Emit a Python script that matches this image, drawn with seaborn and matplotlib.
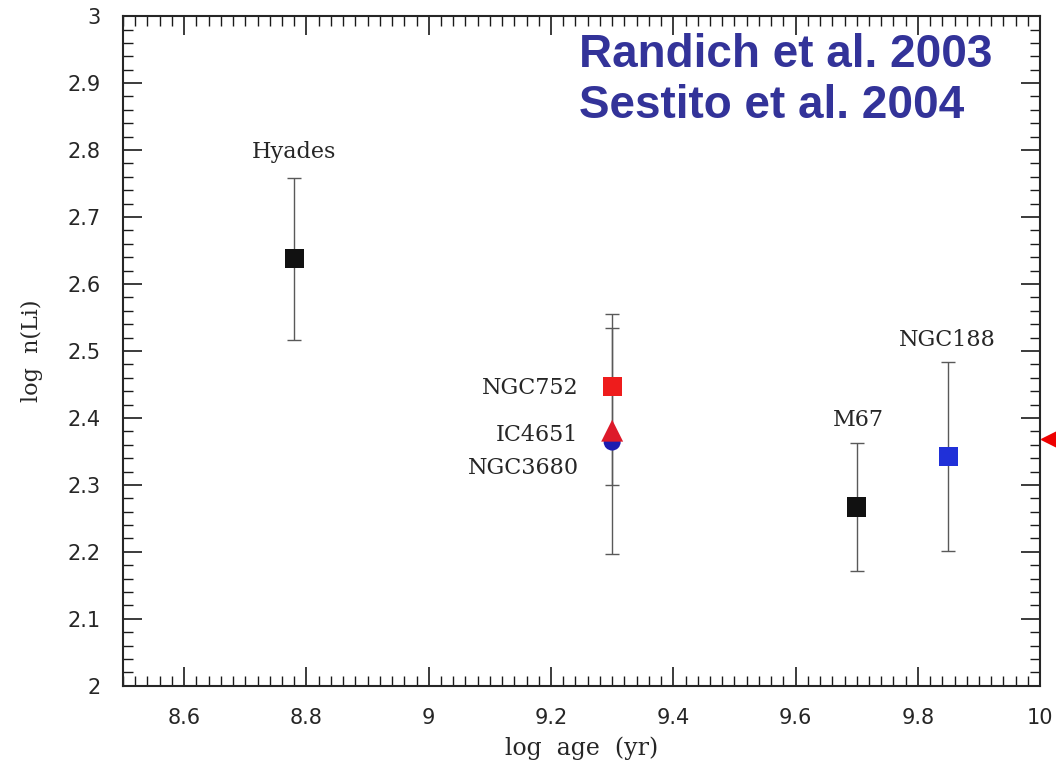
import numpy as np
import pandas as pd
import seaborn as sns
import matplotlib.pyplot as plt
from matplotlib.ticker import MultipleLocator

# values
clusters = ["Hyades", "NGC752", "NGC3680", "IC4651", "M67", "NGC188"]
log_age = [8.78, 9.30, 9.30, 9.30, 9.70, 9.85]
log_li = [2.638, 2.447, 2.364, 2.381, 2.267, 2.343]
err_lo = [0.122, 0.147, 0.167, 0.0, 0.095, 0.141]
err_hi = [0.120, 0.108, 0.170, 0.0, 0.095, 0.140]
colors = ["#111111", "#ee1c1c", "#1c1cb0", "#dd1a2a", "#111111", "#2030d8"]
markers = ["s", "s", "o", "^", "s", "s"]
edge_marker_li = 2.369

df = pd.DataFrame({"cluster": clusters, "age": log_age, "li": log_li,
                   "lo": err_lo, "hi": err_hi})

sns.set_style("ticks")
plt.rcParams["font.family"] = ["DejaVu Sans"]

fig = plt.figure(figsize=(10.56, 7.68), dpi=100)
ax = fig.add_axes([0.1165, 0.107, 0.8685, 0.872])

# error bars first, markers on top
for _, r in df.iterrows():
    if r.lo > 0 or r.hi > 0:
        ax.errorbar(r.age, r.li, yerr=[[r.lo], [r.hi]], fmt="none",
                    ecolor="0.35", elinewidth=1.0, capsize=5, capthick=1.0,
                    zorder=2)

sns.scatterplot(data=df, x="age", y="li", hue="cluster", style="cluster",
                palette=dict(zip(clusters, colors)),
                markers=dict(zip(clusters, markers)),
                s=[190, 190, 150, 250, 190, 190], edgecolor="none",
                legend=False, ax=ax, zorder=3)

serif = ["DejaVu Serif"]
ax.text(8.78, 2.797, "Hyades", ha="center", va="center", fontsize=16, family=serif)
ax.text(9.245, 2.445, "NGC752", ha="right", va="center", fontsize=16, family=serif)
ax.text(9.245, 2.374, "IC4651", ha="right", va="center", fontsize=16, family=serif)
ax.text(9.245, 2.326, "NGC3680", ha="right", va="center", fontsize=16, family=serif)
ax.text(9.703, 2.397, "M67", ha="center", va="center", fontsize=16, family=serif)
ax.text(9.848, 2.516, "NGC188", ha="center", va="center", fontsize=16, family=serif)

ax.text(0.497, 0.975, "Randich et al. 2003\nSestito et al. 2004",
        transform=ax.transAxes, ha="left", va="top", fontsize=33,
        fontweight="bold", color="#333399", family=["Liberation Sans", "DejaVu Sans"],
        linespacing=1.22)

# red marker sitting just outside the right axis
ax.plot([10.022], [edge_marker_li], marker="<", color="#ee0000", markersize=19,
        clip_on=False, zorder=5)

ax.set_xlim(8.5, 10.0)
ax.set_ylim(2.0, 3.0)
ax.xaxis.set_minor_locator(MultipleLocator(0.02))
ax.yaxis.set_minor_locator(MultipleLocator(0.02))
ax.set_xticks([8.6, 8.8, 9.0, 9.2, 9.4, 9.6, 9.8, 10.0])
ax.set_xticklabels(["8.6", "8.8", "9", "9.2", "9.4", "9.6", "9.8", "10"])
ax.set_yticks(np.round(np.arange(2.0, 3.01, 0.1), 1))
ax.set_yticklabels(["2", "2.1", "2.2", "2.3", "2.4", "2.5", "2.6", "2.7",
                    "2.8", "2.9", "3"])
ax.tick_params(which="both", direction="in", top=True, right=True,
               labelsize=15, color="0.1")
ax.tick_params(axis="x", pad=16)
ax.tick_params(axis="y", pad=16)
ax.tick_params(which="major", length=14, width=1.2)
ax.tick_params(which="minor", length=7, width=1.0)
for s in ax.spines.values():
    s.set_linewidth(1.5)
    s.set_color("0.15")

ax.set_xlabel("log  age  (yr)", fontsize=17, family=serif, labelpad=6)
ax.set_ylabel("log  n(Li)", fontsize=16, family=serif, labelpad=18)

fig.savefig("out.png", dpi=100)
